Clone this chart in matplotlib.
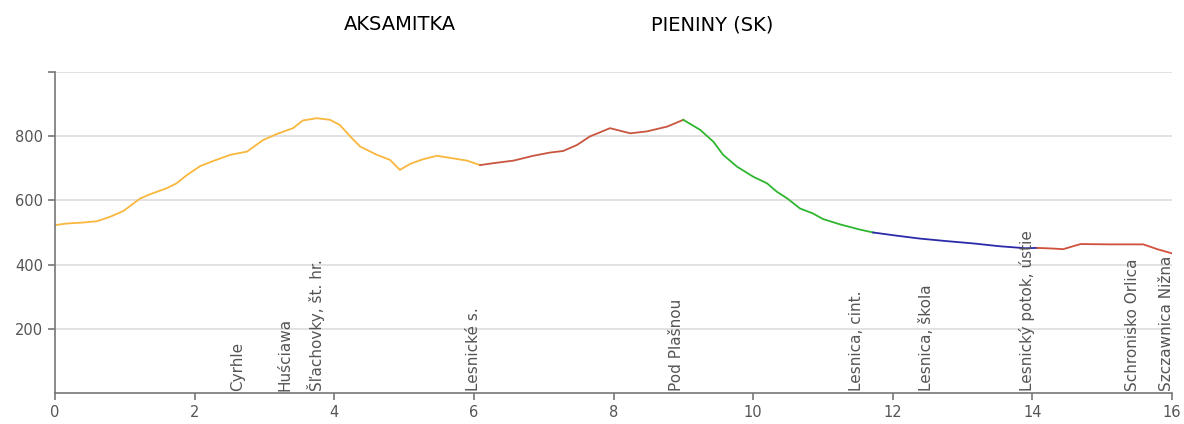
import numpy as np
import matplotlib.pyplot as plt
import matplotlib.transforms as mtransforms

# elevation profile (km, m a.s.l.)
dist = [0.00, 0.17, 0.40, 0.60, 0.79, 0.98, 1.22, 1.36, 1.60, 1.74, 1.89, 2.08,
        2.27, 2.51, 2.75, 2.98, 3.18, 3.41, 3.55, 3.75, 3.94, 4.08, 4.23, 4.37,
        4.61, 4.80, 4.94, 5.09, 5.27, 5.47, 5.70, 5.90, 6.09, 6.28, 6.57, 6.85,
        7.09, 7.28, 7.48, 7.66, 7.95, 8.24, 8.48, 8.77, 9.00, 9.24, 9.43, 9.57,
        9.77, 10.00, 10.20, 10.34, 10.49, 10.67, 10.86, 11.00, 11.25, 11.53, 11.72,
        12.06, 12.39, 12.78, 13.15, 13.54, 13.90, 14.07, 14.30, 14.44, 14.69, 15.12,
        15.59, 15.79, 16.00]
elev = [523, 528, 531, 535, 549, 567, 606, 619, 638, 653, 679, 707,
        723, 742, 752, 788, 807, 825, 849, 856, 851, 835, 799, 768,
        742, 726, 695, 714, 728, 739, 731, 724, 710, 716, 724, 739,
        749, 754, 773, 799, 825, 809, 815, 830, 851, 820, 783, 742,
        705, 674, 653, 627, 606, 575, 559, 542, 525, 509, 500,
        490, 481, 473, 466, 457, 451, 452, 450, 448, 464, 463,
        463, 448, 435]

# coloured sections: (from km, to km, colour)
seg_start = [0.00, 6.09, 9.00, 11.72, 14.07]
seg_end = [6.09, 9.00, 11.72, 14.07, 16.00]
seg_color = ["#f9b73d", "#c9553f", "#2fb62f", "#2a2aa8", "#d0503c"]

# places along the route
stations = ["Cyrhle", "Huściawa", "Šľachovky, št. hr.", "Lesnické s.", "Pod Plašnou",
            "Lesnica, cint.", "Lesnica, škola", "Lesnický potok, ústie",
            "Schronisko Orlica", "Szczawnica Nižna"]
station_km = [2.61, 3.30, 3.74, 6.00, 8.90, 11.48, 12.48, 13.93, 15.44, 15.92]

x = np.array(dist)
y = np.array(elev)

fig = plt.figure(figsize=(11.84, 4.24), dpi=100)
ax = fig.add_axes([55/1184, 31/424, 1117/1184, 321/424])

for a, b, c in zip(seg_start, seg_end, seg_color):
    m = (x >= a - 1e-9) & (x <= b + 1e-9)
    ax.plot(x[m], y[m], color=c, lw=1.3, solid_joinstyle='round')

ax.set_xlim(0, 16)
ax.set_ylim(0, 1000)
ax.set_xticks(np.arange(0, 17, 2))
ax.set_yticks([200, 400, 600, 800, 1000])
ax.set_yticklabels(["200", "400", "600", "800", ""])
for gy in [200, 400, 600, 800, 1000]:
    ax.axhline(gy, color="#dddddd", lw=1.2, zorder=0)

for s in ["top", "right"]:
    ax.spines[s].set_visible(False)
for s in ["left", "bottom"]:
    ax.spines[s].set_color("#777777")
    ax.spines[s].set_linewidth(1.2)
ax.tick_params(colors="#777777", labelcolor="#555555", labelsize=10.5, length=5, width=1.2)

trans = mtransforms.blended_transform_factory(ax.transData, ax.transAxes)
for name, km in zip(stations, station_km):
    ax.text(km, 0.006, name, rotation=90, ha="center", va="bottom",
            fontsize=11, color="#555555", transform=trans)

fig.text(400/1184, 1 - 25/424, "AKSAMITKA", ha="center", va="center", fontsize=14, color="black")
fig.text(712/1184, 1 - 25/424, "PIENINY (SK)", ha="center", va="center", fontsize=14, color="black")

fig.savefig("out.png", dpi=100)
